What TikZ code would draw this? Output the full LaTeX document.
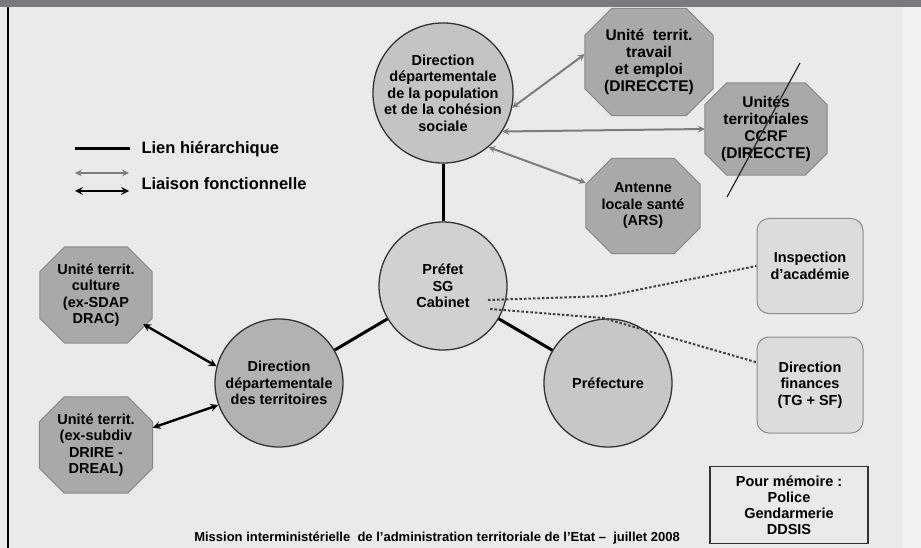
\documentclass[tikz,border=0pt]{standalone}
\usepackage{fontspec}
\setmainfont{Liberation Sans}
\usetikzlibrary{positioning,calc,backgrounds}

\definecolor{bggray}{HTML}{EAEAEA}
\definecolor{bargray}{HTML}{7A7A7E}
\definecolor{octfill}{HTML}{A9A9A9}
\definecolor{octline}{HTML}{8A8A8A}
\definecolor{boxfill}{HTML}{DCDCDC}
\definecolor{linkgray}{HTML}{7C7C7C}

\tikzset{
  circ/.style={circle, draw=black!80, line width=1.3pt, minimum size=128pt, inner sep=0pt, align=center, font=\bfseries\fontsize{14.5}{16.5}\selectfont},
  octo/.style={rectangle, inner sep=0pt, align=center, font=\bfseries\fontsize{14.5}{16.5}\selectfont},
  octline/.style={draw=octline, fill=octfill, line width=1pt},
  rbox/.style={rectangle, rounded corners=12pt, draw=black!45, fill=boxfill, line width=1pt, inner sep=0pt, align=center, font=\bfseries\fontsize{14.5}{16.5}\selectfont},
  hier/.style={line width=3pt, black},
  func/.style={line width=2pt, linkgray, stealth-stealth},
  funcblack/.style={line width=2.4pt, black, stealth-stealth},
  dotlink/.style={line width=2pt, black!75, dash pattern=on 2.5pt off 2pt}
}

% octagon round a node: name, corner
\newcommand\octoaround[2]{%
  \filldraw[octline] ($(#1.north west)+(#2,0)$) -- ($(#1.north east)+(-#2,0)$)
    -- ($(#1.north east)+(0,#2)$) -- ($(#1.south east)+(0,-#2)$)
    -- ($(#1.south east)+(-#2,0)$) -- ($(#1.south west)+(#2,0)$)
    -- ($(#1.south west)+(0,-#2)$) -- ($(#1.north west)+(0,#2)$) -- cycle;}

\begin{document}
\begin{tikzpicture}[x=1pt, y=-1pt]
  \useasboundingbox (0,0) rectangle (921,548);
  \begin{pgfonlayer}{background}
    \fill[bggray] (0,0) rectangle (921,548);
    \fill[bggray!60!white] (903,7) rectangle (921,548);
    \fill[bargray] (0,0) rectangle (921,7);
    \fill[black] (6.5,7) rectangle (9,548);
  \end{pgfonlayer}

  % legend
  \coordinate (h1) at (75,149);
  \coordinate (h2) at (130,149);
  \coordinate (g1) at (75,173);
  \coordinate (g2) at (129,173);
  \coordinate (b1) at (75,191);
  \coordinate (b2) at (129,191);
  \draw[hier] (h1) -- (h2);
  \draw[func] (g1) -- (g2);
  \draw[funcblack] (b1) -- (b2);
  \node[anchor=west, font=\bfseries\fontsize{16.5}{18}\selectfont] (lien) at (138,149) {Lien hiérarchique};
  \node[anchor=west, font=\bfseries\fontsize{16.5}{18}\selectfont] (liaison) at (138,184) {Liaison fonctionnelle};

  % main circles
  \node[circ, fill=black!23] (ddpp) at (443,93) {Direction\\départementale\\de la population\\et de la cohésion\\sociale};
  \node[circ, fill=black!18] (prefet) at (443,286) {Préfet\\SG\\Cabinet};
  \node[circ, fill=black!30] (ddt) at (279,383) {Direction\\départementale\\des territoires};
  \node[circ, fill=black!22] (prefecture) at (608,383) {Préfecture};

  % octagons
  \node[octo, minimum width=128pt, minimum height=107pt, font=\bfseries\fontsize{15.5}{17}\selectfont] (travail) at (649,62) {Unité\ \ territ.\\travail\\et emploi\\(DIRECCTE)};
  \node[octo, minimum width=122pt, minimum height=92pt, font=\bfseries\fontsize{15.5}{17}\selectfont] (ccrf) at (766,129) {Unités\\territoriales\\CCRF\\(DIRECCTE)};
  \node[octo, minimum width=114pt, minimum height=95pt] (ars) at (643,206) {Antenne\\locale santé\\(ARS)};
  \node[octo, minimum width=112pt, minimum height=96pt] (culture) at (96,295) {Unité territ.\\culture\\(ex-SDAP\\DRAC)};
  \node[octo, minimum width=113pt, minimum height=96pt] (subdiv) at (96,445) {Unité territ.\\(ex-subdiv\\DRIRE -\\DREAL)};
  \begin{pgfonlayer}{background}
    \octoaround{travail}{27}
    \octoaround{ccrf}{22}
    \octoaround{ars}{26}
    \octoaround{culture}{25}
    \octoaround{subdiv}{25}
  \end{pgfonlayer}

  % boxes
  \node[rbox, minimum width=106pt, minimum height=95pt] (insp) at (810,266) {Inspection\\d’académie};
  \node[rbox, minimum width=106pt, minimum height=96pt] (fin) at (810,385) {Direction\\finances\\(TG + SF)};
  \node[draw=black!80, line width=1.3pt, minimum width=158pt, minimum height=77pt, inner sep=0pt, align=center, font=\bfseries\fontsize{14.5}{16}\selectfont] (memo) at (789,505) {Pour mémoire :\\Police\\Gendarmerie\\DDSIS};

  % hierarchy
  \draw[hier] (ddpp) -- (prefet);
  \draw[hier] (prefet) -- (ddt);
  \draw[hier] (prefet) -- (prefecture);

  % functional links
  \draw[func] (ddpp.-12) -- (travail.173);
  \draw[func] (ddpp.-33) -- (ccrf.west);
  \draw[func] (ddpp.-50) -- (ars.158);
  \coordinate (c1) at ($(culture)+(47,29)$);
  \draw[funcblack] (c1) -- (ddt.165);
  \draw[funcblack] (subdiv.17) -- (ddt.200);

  % crossed out
  \coordinate (x1) at ($(ccrf)+(34,-66)$);
  \coordinate (x2) at ($(ccrf)+(-39,68)$);
  \draw[line width=1.2pt, black!85] (x1) -- (x2);

  % dotted links
  \coordinate (d1) at ($(prefet)+(45,14)$);
  \coordinate (m1) at ($(prefet)+(164,10)$);
  \coordinate (d2) at ($(prefet)+(47,23)$);
  \coordinate (m2) at ($(prefet)+(160,32)$);
  \draw[dotlink] (d1) -- (m1) -- (insp.west);
  \draw[dotlink] (d2) -- (m2) -- (fin.157);

  \node[font=\bfseries\fontsize{13}{15}\selectfont] (footer) at (437,538) {Mission interministérielle\ \ de l’administration territoriale de l’Etat –\ \ juillet 2008};
\end{tikzpicture}
\end{document}
